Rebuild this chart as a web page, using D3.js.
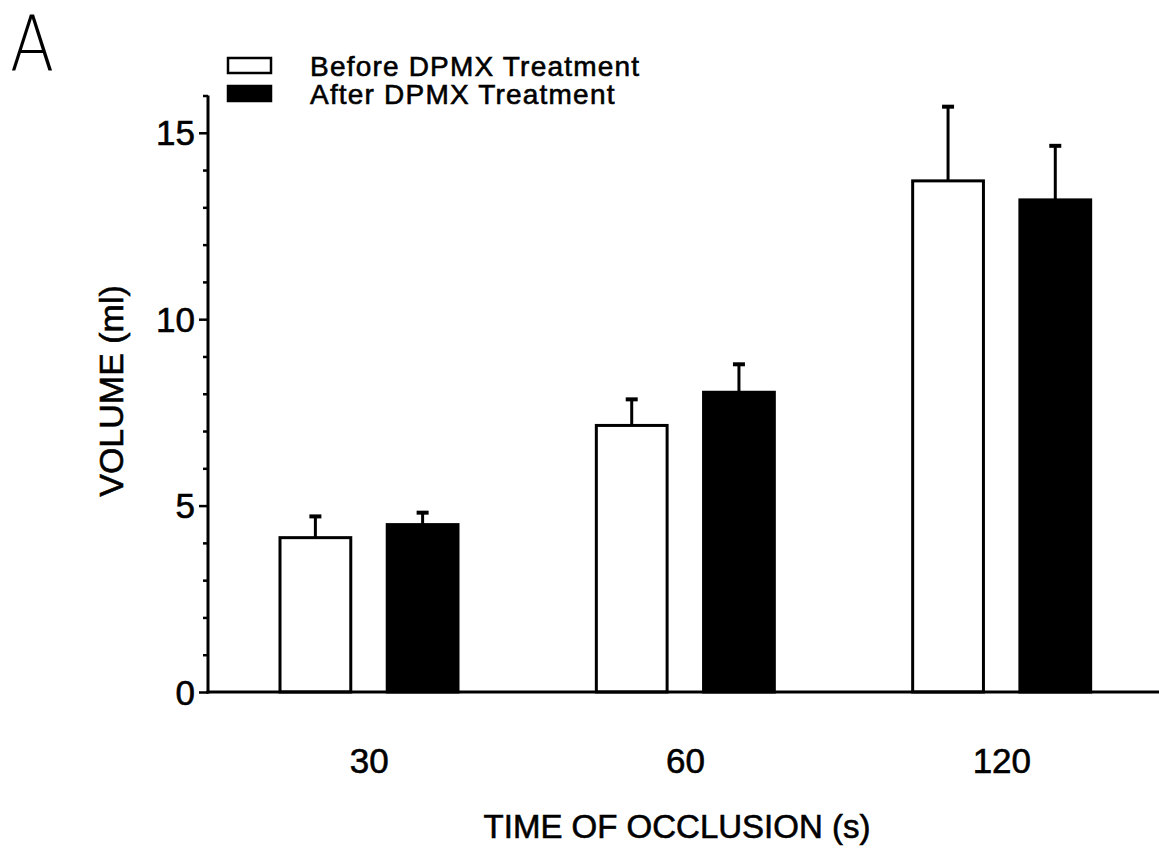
<!DOCTYPE html>
<html>
<head>
<meta charset="utf-8">
<script src="https://cdn.jsdelivr.net/npm/d3@7"></script>
<style>
  body { margin: 0; background: #fff; }
  svg text { font-family: "Liberation Sans", Arial, sans-serif; fill: #000; }
  .lbl { stroke: #000; stroke-width: 0.6px; }
</style>
</head>
<body>
<div id="chart"></div>
<script>
// data
const times = ["30", "60", "120"];
const series = ["Before DPMX Treatment", "After DPMX Treatment"];
const beforeMean = [4.14, 7.15, 13.71];
const beforeErr = [0.57, 0.70, 1.99];
const afterMean = [4.49, 8.04, 13.2];
const afterErr = [0.32, 0.75, 1.45];
const yTicks = [0, 5, 10, 15];

const W = 1159, H = 854;
const margin = {top: 95, right: 0, bottom: 162, left: 208};

const svg = d3.select("#chart")
  .append("svg")
    .attr("width", W)
    .attr("height", H);

const y = d3.scaleLinear()
  .domain([0, 16])
  .range([692, 95.5]);

const x0 = d3.scaleBand()
  .domain(times)
  .range([211, 1160]);

const x1 = d3.scaleBand()
  .domain(series)
  .range([69, 247])
  .paddingInner(0.34);

const fills = ["#fff", "#000"];

const rows = [];
times.forEach((t, i) => {
  rows.push({t: t, s: series[0], v: beforeMean[i], e: beforeErr[i]});
  rows.push({t: t, s: series[1], v: afterMean[i], e: afterErr[i]});
});

// error bars (drawn first so the bar top covers the stem base)
const eb = svg.append("g")
  .selectAll("g")
  .data(rows)
  .join("g")
    .attr("transform", d => `translate(${x0(d.t) + x1(d.s) + x1.bandwidth() / 2},0)`);

eb.append("line")
  .attr("y1", d => y(d.v))
  .attr("y2", d => y(d.v + d.e))
  .attr("stroke", "#000")
  .attr("stroke-width", 3);

eb.append("line")
  .attr("x1", -6).attr("x2", 6)
  .attr("y1", d => y(d.v + d.e))
  .attr("y2", d => y(d.v + d.e))
  .attr("stroke", "#000")
  .attr("stroke-width", 4);

// bars
svg.append("g")
  .selectAll("rect")
  .data(rows)
  .join("rect")
    .attr("x", d => x0(d.t) + x1(d.s))
    .attr("y", d => y(d.v))
    .attr("width", x1.bandwidth())
    .attr("height", d => y(0) - y(d.v))
    .attr("fill", d => fills[series.indexOf(d.s)])
    .attr("stroke", "#000")
    .attr("stroke-width", 3);

// y axis
const yAxis = svg.append("g")
  .attr("transform", `translate(${margin.left},0)`)
  .call(d3.axisLeft(y).tickValues(d3.range(0, 17)).tickSize(5).tickFormat(""));

yAxis.selectAll(".tick line")
  .attr("stroke-width", 2.5)
  .attr("x2", d => (d % 5 === 0 ? -9 : -5));
yAxis.select(".domain").remove();
yAxis.append("line")
  .attr("y1", y(0) + 1.5).attr("y2", y(16))
  .attr("stroke", "#000").attr("stroke-width", 3);

svg.append("g")
  .selectAll("text")
  .data(yTicks)
  .join("text")
    .attr("class", "lbl")
    .attr("x", 195)
    .attr("y", d => y(d))
    .attr("dy", "0.36em")
    .attr("text-anchor", "end")
    .style("font-size", "35px")
    .text(d => d);

// x axis
svg.append("line")
  .attr("x1", margin.left - 1.5).attr("x2", W)
  .attr("y1", y(0)).attr("y2", y(0))
  .attr("stroke", "#000").attr("stroke-width", 3);

svg.append("g")
  .selectAll("text")
  .data(times)
  .join("text")
    .attr("class", "lbl")
    .attr("x", d => x0(d) + x0.bandwidth() / 2)
    .attr("y", 773)
    .attr("text-anchor", "middle")
    .style("font-size", "35px")
    .text(d => d);

// axis titles
svg.append("text")
  .attr("class", "lbl")
  .attr("x", 677)
  .attr("y", 838)
  .attr("text-anchor", "middle")
  .style("font-size", "33px")
  .text("TIME OF OCCLUSION (s)");

svg.append("text")
  .attr("class", "lbl")
  .attr("transform", "translate(123,391) rotate(-90)")
  .attr("text-anchor", "middle")
  .style("font-size", "34px")
  .text("VOLUME (ml)");

// legend
const legend = svg.append("g")
  .selectAll("g")
  .data(series)
  .join("g")
    .attr("transform", (d, i) => `translate(228,${58 + i * 28})`);

legend.append("rect")
  .attr("width", 43)
  .attr("height", 15)
  .attr("fill", (d, i) => fills[i])
  .attr("stroke", "#000")
  .attr("stroke-width", 2.5);

legend.append("text")
  .attr("class", "lbl")
  .attr("x", 82)
  .attr("y", 18)
  .style("font-size", "28px")
  .style("letter-spacing", "1.2px")
  .text(d => d);

// panel letter
svg.append("text")
  .attr("transform", "translate(10,71) scale(0.85,1)")
  .style("font-family", "'DejaVu Sans'")
  .style("font-weight", "200")
  .style("font-size", "76px")
  .text("A");
</script>
</body>
</html>
